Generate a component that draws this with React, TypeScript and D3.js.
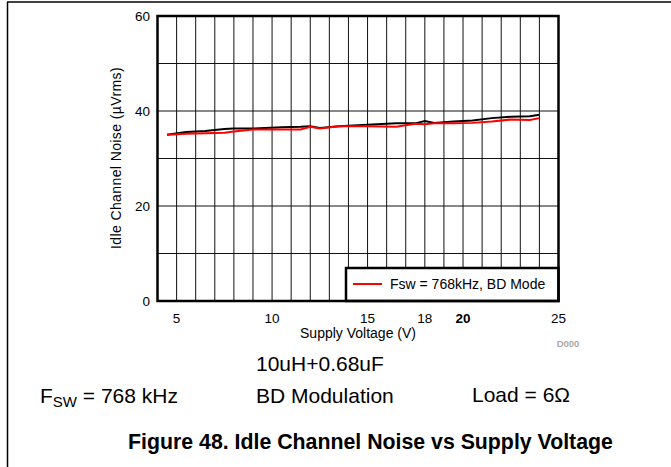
import React from 'react';
import * as d3 from 'd3';

// supply voltage (V) sample points
const voltages = [4.5, 5.5, 6.5, 7.5, 8, 9, 10.5, 11.5, 12, 12.5, 13.5, 15, 16.5, 17.5, 18, 18.5, 19.5, 20.5, 21.5, 22.5, 23.5, 24];
// idle channel noise (uVrms), black trace
const noiseBlack = [35.0, 35.6, 35.8, 36.2, 36.3, 36.3, 36.6, 36.7, 36.8, 36.4, 36.8, 37.1, 37.4, 37.4, 37.9, 37.5, 37.8, 38.0, 38.5, 38.8, 38.9, 39.2];
// idle channel noise (uVrms), red trace (Fsw = 768kHz, BD Mode)
const noiseRed = [35.0, 35.2, 35.3, 35.4, 35.7, 36.1, 36.1, 36.1, 36.7, 36.3, 36.8, 36.8, 36.7, 37.3, 37.2, 37.4, 37.4, 37.5, 37.8, 38.2, 38.1, 38.5];

const xTicks = [5, 10, 15, 18, 20, 25];
const boldXTicks = [20];
const yTicks = [0, 20, 40, 60];
const legendLabel = 'Fsw = 768kHz, BD Mode';

const W = 671;
const H = 467;
const plot = { left: 157.5, right: 558.5, top: 16, bottom: 301 };
const font = 'Arial, "Liberation Sans", Helvetica, sans-serif';

const App: React.FC = () => {
    const x = d3.scaleLinear().domain([4, 25]).range([plot.left, plot.right]);
    const y = d3.scaleLinear().domain([0, 60]).range([plot.bottom, plot.top]);

    const line = d3.line<number>()
        .x((_, i) => x(voltages[i]))
        .y(d => y(d));

    const vGrid = d3.range(5, 25);
    const hGrid = d3.range(10, 60, 10);

    const legend = { x0: 346, x1: plot.right, y0: 268, y1: plot.bottom };

    return (
        <svg width={W} height={H} style={{ position: 'absolute', left: 0, top: 0, background: '#fff' }} fontFamily={font}>
            {/* page frame */}
            <line x1={7.5} x2={7.5} y1={2} y2={H} stroke="#000" strokeWidth={1.5} />
            <line x1={7} x2={W} y1={2} y2={2} stroke="#000" strokeWidth={1.5} />

            {/* grid */}
            {vGrid.map(v => (
                <line key={'v' + v} x1={x(v)} x2={x(v)} y1={plot.top} y2={plot.bottom} stroke="#111" strokeWidth={1} />
            ))}
            {hGrid.map(v => (
                <line key={'h' + v} x1={plot.left} x2={plot.right} y1={y(v)} y2={y(v)} stroke="#111" strokeWidth={1} />
            ))}

            {/* data */}
            <path d={line(noiseBlack) || ''} fill="none" stroke="#000" strokeWidth={2} />
            <path d={line(noiseRed) || ''} fill="none" stroke="#ff0000" strokeWidth={2} />

            {/* legend */}
            <rect x={legend.x0} y={legend.y0} width={legend.x1 - legend.x0} height={legend.y1 - legend.y0} fill="#fff" stroke="#000" strokeWidth={2.5} />
            <line x1={353} x2={382} y1={284} y2={284} stroke="#ff0000" strokeWidth={2} />
            <text x={390} y={289} fontSize={14} fill="#000">{legendLabel}</text>

            {/* plot border */}
            <rect x={plot.left} y={plot.top} width={plot.right - plot.left} height={plot.bottom - plot.top} fill="none" stroke="#000" strokeWidth={2.5} />

            {/* y ticks */}
            {yTicks.map(t => (
                <text key={'yt' + t} x={150} y={y(t)} dy="0.36em" textAnchor="end" fontSize={13.5} fill="#000">{t}</text>
            ))}
            {/* x ticks */}
            {xTicks.map(t => (
                <text key={'xt' + t} x={x(t)} y={323} textAnchor="middle" fontSize={13.5}
                    fontWeight={boldXTicks.includes(t) ? 'bold' : 'normal'} fill="#000">{t}</text>
            ))}

            {/* axis titles */}
            <text x={(plot.left + plot.right) / 2} y={338} textAnchor="middle" fontSize={14} fill="#000">Supply Voltage (V)</text>
            <text transform="translate(121,158) rotate(-90)" textAnchor="middle" fontSize={14} letterSpacing={0.4} fill="#000">Idle Channel Noise (µVrms)</text>
            <text x={568} y={347} textAnchor="middle" fontSize={9.5} fontWeight="bold" fill="#aaa">D000</text>

            {/* conditions */}
            <text x={256} y={371} fontSize={21} fill="#000">10uH+0.68uF</text>
            <text x={40} y={403} fontSize={21} fill="#000">
                F<tspan fontSize={15} dy={4}>SW</tspan><tspan dy={-4}> = 768 kHz</tspan>
            </text>
            <text x={256} y={403} fontSize={21} fill="#000">BD Modulation</text>
            <text x={472} y={402} fontSize={21} fill="#000">Load = 6Ω</text>

            {/* caption */}
            <text x={370.5} y={449} textAnchor="middle" fontSize={21.3} fontWeight="bold" fill="#000">
                Figure 48. Idle Channel Noise vs Supply Voltage
            </text>
        </svg>
    );
};

export default App;
